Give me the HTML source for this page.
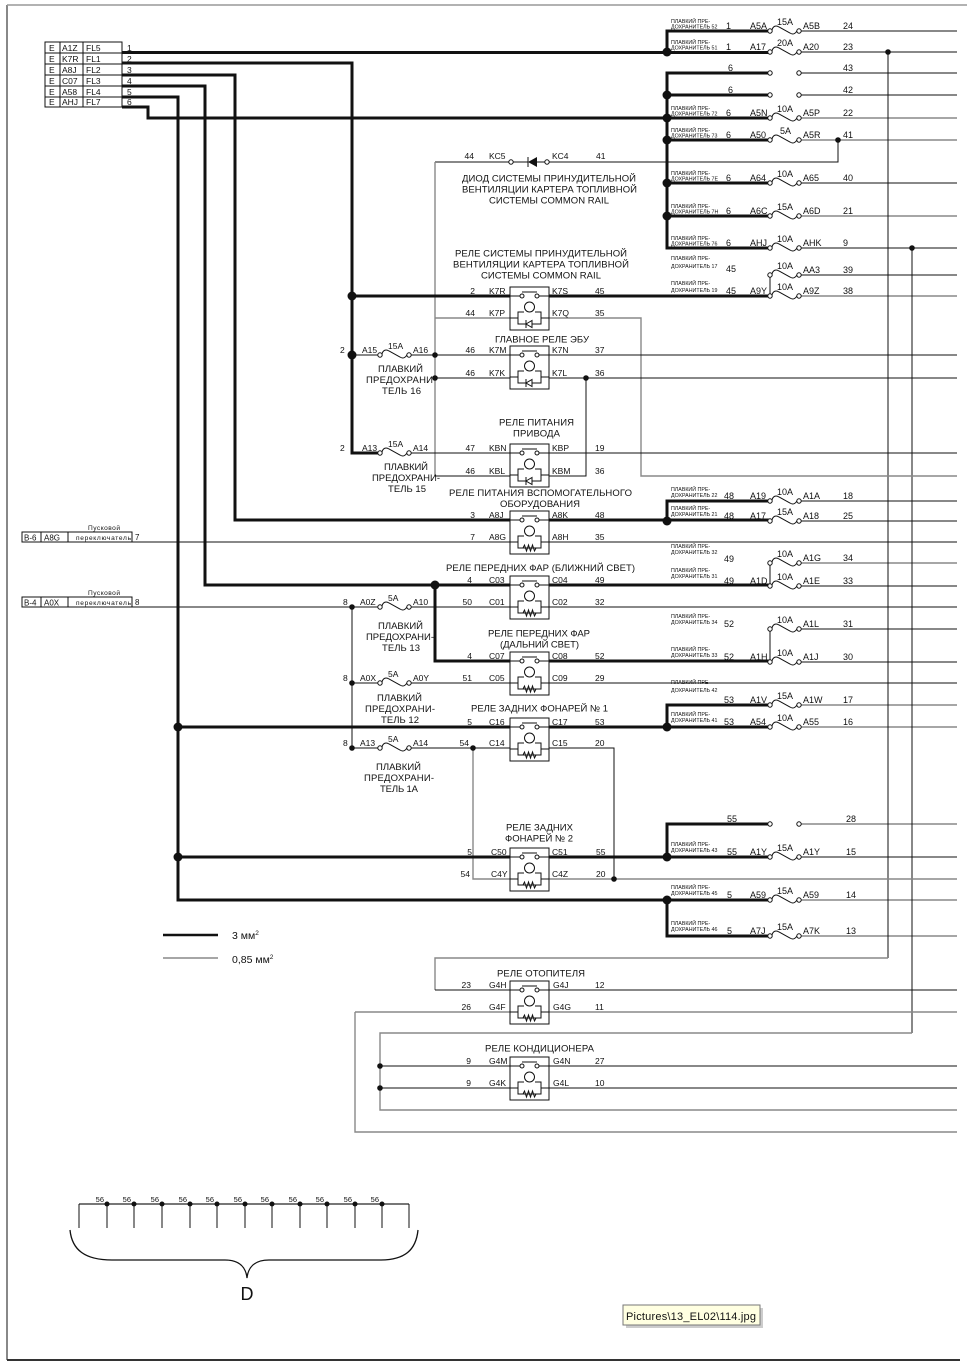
<!DOCTYPE html>
<html><head><meta charset="utf-8"><style>
html,body{margin:0;padding:0;background:#fff;}
svg{display:block}
text{font-family:"Liberation Sans",sans-serif;fill:#111;}
.k{stroke:#111;stroke-width:1;fill:none}
.K{stroke:#111;stroke-width:3;fill:none}
.g{stroke:#888;stroke-width:1.4;fill:none}
.t{font-size:8.5px}
.r{font-size:9px}
.b{font-size:5.3px;fill:#2f4f9f}
.h{font-size:9.5px}
</style></head><body>
<svg width="967" height="1365" viewBox="0 0 967 1365" xmlns="http://www.w3.org/2000/svg">
<defs>
<g id="fu"><path d="M2,-1 C3,-5 6,-6 9,-4 L20,2 C23,4 25,3 27,0" class="k"/><circle cx="0" cy="0" r="2.2" fill="#fff" stroke="#111"/><circle cx="29" cy="0" r="2.2" fill="#fff" stroke="#111"/></g>
<g id="op"><circle cx="0" cy="0" r="2.2" fill="#fff" stroke="#111"/><circle cx="29" cy="0" r="2.2" fill="#fff" stroke="#111"/></g>
<g id="rl">
<rect x="0" y="0" width="39" height="43" fill="#fff" stroke="#111"/>
<path d="M0,9 H10 M29,9 H39 M12,5 H27 M0,31 H8 M31,31 H39 M14,25 H8 V37 H31 V25 H25" class="k"/>
<circle cx="12" cy="9" r="2" fill="#fff" stroke="#111"/>
<circle cx="27" cy="9" r="2" fill="#fff" stroke="#111"/>
<circle cx="19.5" cy="20" r="5" fill="#fff" stroke="#111"/>
</g>
<g id="rd"><use href="#rl"/><path d="M16,33 V41" class="k"/><polygon points="16,37 22,33.5 22,40.5" fill="#fff" stroke="#111"/></g>
<g id="rr"><use href="#rl"/><path d="M13,37 l1.5,-3 l2,6 l2,-6 l2,6 l2,-6 l2,6 l1.5,-3" fill="#fff" class="k"/></g>
</defs>

<!-- frame -->
<path d="M7,5 V1360" stroke="#888" stroke-width="2" fill="none"/>
<path d="M7,5 H967" stroke="#999" stroke-width="1.5" fill="none"/>
<path d="M7,1360 H960" stroke="#333" stroke-width="2" fill="none"/>

<!-- connector table -->
<rect x="45" y="42" width="77" height="65" fill="#fff" stroke="#111"/>
<path class="k" d="M45,53H122M45,64H122M45,75H122M45,86H122M45,97H122M60,42V107M83,42V107"/>
<g class="t">
<text x="49" y="51">E</text><text x="62" y="51">A1Z</text><text x="86" y="51">FL5</text>
<text x="49" y="62">E</text><text x="62" y="62">K7R</text><text x="86" y="62">FL1</text>
<text x="49" y="73">E</text><text x="62" y="73">A8J</text><text x="86" y="73">FL2</text>
<text x="49" y="84">E</text><text x="62" y="84">C07</text><text x="86" y="84">FL3</text>
<text x="49" y="95">E</text><text x="62" y="95">A58</text><text x="86" y="95">FL4</text>
<text x="49" y="105">E</text><text x="62" y="105">AHJ</text><text x="86" y="105">FL7</text>
<text x="127" y="51">1</text><text x="127" y="62">2</text><text x="127" y="73">3</text>
<text x="127" y="84">4</text><text x="127" y="95">5</text><text x="127" y="105">6</text>
</g>

<!-- thin right outputs -->
<path class="k" d="M801,31H957M801,52H957M801,73H957M801,95H957M801,183H957M801,248H957M801,275H957M801,501H957M801,521H957M801,586H957M801,629H957M801,662H957M801,857H957"/>
<path class="g" d="M801,118H957M801,140H957M801,216H957M801,296H957M801,563H957M801,705H957M801,727H957M801,824H957M801,900H957M801,936H957"/>

<!-- verticals and misc thin -->
<path class="k" d="M888,52V958M912,248V1033M838,140V162H549M770,275V296M770,563V586M770,629V662"/>
<path class="k" d="M435,162H509M513,162H528M537,162H545"/>
<path class="k" d="M528,157V167"/>
<polygon points="528,162 537,157 537,167" fill="#111"/>
<circle cx="511" cy="162" r="2.2" fill="#fff" stroke="#111"/>
<circle cx="547" cy="162" r="2.2" fill="#fff" stroke="#111"/>

<path class="g" d="M435,162V476M435,318H510M549,318H641V476H957"/>
<path class="g" d="M888,958H435V990"/>
<path class="k" d="M435,990H510M549,990H957"/>
<path class="g" d="M912,1033H380V1110H957M355,1012H510M549,1012H957M355,1012V1132H957"/>
<path class="k" d="M380,1066H510M549,1066H957M380,1088H510M549,1088H957"/>

<path class="k" d="M352,355H378M411,355H510M549,355H957"/>
<path class="k" d="M435,378H510M549,378H957M586,378V476H549"/>
<path class="k" d="M411,453H510M549,453H957M435,476H510"/>
<path class="k" d="M22,542H510M549,542H957"/>
<path class="k" d="M22,607H378M411,607H510M549,607H957M352,607V748"/>
<path class="k" d="M352,683H378M411,683H510M549,683H957"/>
<path class="k" d="M352,748H378M411,748H510M549,748H614V879"/>
<path class="g" d="M473,748V879H510M549,879H957"/>

<!-- thick -->
<path class="K" d="M122,52.5H770"/>
<path class="K" d="M122,63H352V453H378"/>
<path class="K" d="M122,75H235V520H510M549,520H770"/>
<path class="K" d="M122,86H205V585H510M549,585H770"/>
<path class="K" d="M122,97H178V900H770"/>
<path class="K" d="M122,107H148V118H770"/>
<path class="K" d="M352,296H510M549,296H770"/>
<path class="K" d="M435,585V661H510M549,661H770"/>
<path class="K" d="M178,727H510M549,727H770"/>
<path class="K" d="M178,857H510M549,857H770"/>
<path class="K" d="M770,31H667V52M770,73H667V248H770M770,95H667M667,140H770M667,183H770M667,216H770M770,501H667V521M770,705H667V727M770,824H667V857M667,900V936H770"/>

<!-- right fuses -->
<use href="#fu" x="770" y="31"/><use href="#fu" x="770" y="52"/>
<use href="#op" x="770" y="73"/><use href="#op" x="770" y="95"/>
<use href="#fu" x="770" y="118"/><use href="#fu" x="770" y="140"/>
<use href="#fu" x="770" y="183"/><use href="#fu" x="770" y="216"/>
<use href="#fu" x="770" y="248"/><use href="#fu" x="770" y="275"/>
<use href="#fu" x="770" y="296"/><use href="#fu" x="770" y="501"/>
<use href="#fu" x="770" y="521"/><use href="#fu" x="770" y="563"/>
<use href="#fu" x="770" y="586"/><use href="#fu" x="770" y="629"/>
<use href="#fu" x="770" y="662"/><use href="#fu" x="770" y="705"/>
<use href="#fu" x="770" y="727"/><use href="#op" x="770" y="824"/>
<use href="#fu" x="770" y="857"/><use href="#fu" x="770" y="900"/>
<use href="#fu" x="770" y="936"/>

<!-- left fuses -->
<use href="#fu" x="380" y="355"/><use href="#fu" x="380" y="453"/>
<use href="#fu" x="380" y="607"/><use href="#fu" x="380" y="683"/>
<use href="#fu" x="380" y="748"/>

<!-- relays -->
<use href="#rd" x="510" y="287"/>
<use href="#rd" x="510" y="346"/>
<use href="#rd" x="510" y="444"/>
<use href="#rr" x="510" y="511"/>
<use href="#rr" x="510" y="576"/>
<use href="#rr" x="510" y="652"/>
<use href="#rr" x="510" y="718"/>
<use href="#rr" x="510" y="848"/>
<use href="#rr" x="510" y="981"/>
<use href="#rr" x="510" y="1057"/>

<!-- dots -->
<g fill="#111">
<circle cx="667" cy="52" r="4.5"/><circle cx="667" cy="95" r="4.5"/><circle cx="667" cy="118" r="4.5"/>
<circle cx="667" cy="140" r="4.5"/><circle cx="667" cy="183" r="4.5"/><circle cx="667" cy="216" r="4.5"/>
<circle cx="667" cy="521" r="4.5"/><circle cx="667" cy="727" r="4.5"/><circle cx="667" cy="857" r="4.5"/>
<circle cx="667" cy="900" r="4.5"/><circle cx="352" cy="296" r="4.5"/><circle cx="352" cy="355" r="4.5"/>
<circle cx="435" cy="585" r="4.5"/><circle cx="178" cy="727" r="4.5"/><circle cx="178" cy="857" r="4.5"/>
<circle cx="888" cy="52" r="2.8"/><circle cx="838" cy="140" r="2.8"/><circle cx="912" cy="248" r="2.8"/>
<circle cx="435" cy="355" r="2.8"/><circle cx="435" cy="378" r="2.8"/><circle cx="586" cy="378" r="2.8"/>
<circle cx="352" cy="607" r="2.8"/><circle cx="352" cy="683" r="2.8"/><circle cx="352" cy="748" r="2.8"/>
<circle cx="473" cy="748" r="2.8"/><circle cx="614" cy="879" r="2.8"/>
<circle cx="380" cy="1066" r="2.8"/><circle cx="380" cy="1088" r="2.8"/>
</g>

<!-- right block labels -->
<g class="b">
<text x="671" y="23">ПЛАВКИЙ ПРЕ-</text><text x="671" y="28.5">ДОХРАНИТЕЛЬ 52</text>
<text x="671" y="44">ПЛАВКИЙ ПРЕ-</text><text x="671" y="49.5">ДОХРАНИТЕЛЬ 51</text>
<text x="671" y="110">ПЛАВКИЙ ПРЕ-</text><text x="671" y="115.5">ДОХРАНИТЕЛЬ 72</text>
<text x="671" y="132">ПЛАВКИЙ ПРЕ-</text><text x="671" y="137.5">ДОХРАНИТЕЛЬ 73</text>
<text x="671" y="175">ПЛАВКИЙ ПРЕ-</text><text x="671" y="180.5">ДОХРАНИТЕЛЬ 7E</text>
<text x="671" y="208">ПЛАВКИЙ ПРЕ-</text><text x="671" y="213.5">ДОХРАНИТЕЛЬ 7H</text>
<text x="671" y="240">ПЛАВКИЙ ПРЕ-</text><text x="671" y="245.5">ДОХРАНИТЕЛЬ 76</text>
<text x="671" y="260">ПЛАВКИЙ ПРЕ-</text><text x="671" y="268">ДОХРАНИТЕЛЬ 17</text>
<text x="671" y="285">ПЛАВКИЙ ПРЕ-</text><text x="671" y="292">ДОХРАНИТЕЛЬ 19</text>
<text x="671" y="491">ПЛАВКИЙ ПРЕ-</text><text x="671" y="497">ДОХРАНИТЕЛЬ 22</text>
<text x="671" y="510">ПЛАВКИЙ ПРЕ-</text><text x="671" y="516">ДОХРАНИТЕЛЬ 21</text>
<text x="671" y="548">ПЛАВКИЙ ПРЕ-</text><text x="671" y="554">ДОХРАНИТЕЛЬ 32</text>
<text x="671" y="572">ПЛАВКИЙ ПРЕ-</text><text x="671" y="578">ДОХРАНИТЕЛЬ 31</text>
<text x="671" y="618">ПЛАВКИЙ ПРЕ-</text><text x="671" y="624">ДОХРАНИТЕЛЬ 34</text>
<text x="671" y="651">ПЛАВКИЙ ПРЕ-</text><text x="671" y="657">ДОХРАНИТЕЛЬ 33</text>
<text x="671" y="684">ПЛАВКИЙ ПРЕ-</text><text x="671" y="692">ДОХРАНИТЕЛЬ 42</text>
<text x="671" y="716">ПЛАВКИЙ ПРЕ-</text><text x="671" y="722">ДОХРАНИТЕЛЬ 41</text>
<text x="671" y="846">ПЛАВКИЙ ПРЕ-</text><text x="671" y="852">ДОХРАНИТЕЛЬ 43</text>
<text x="671" y="889">ПЛАВКИЙ ПРЕ-</text><text x="671" y="895">ДОХРАНИТЕЛЬ 45</text>
<text x="671" y="925">ПЛАВКИЙ ПРЕ-</text><text x="671" y="931">ДОХРАНИТЕЛЬ 46</text>
</g>
<g class="r">
<text x="726" y="29">1</text><text x="750" y="29">A5A</text><text x="777" y="25">15A</text><text x="803" y="29">A5B</text><text x="843" y="29">24</text>
<text x="726" y="50">1</text><text x="750" y="50">A17</text><text x="777" y="46">20A</text><text x="803" y="50">A20</text><text x="843" y="50">23</text>
<text x="728" y="71">6</text><text x="843" y="71">43</text>
<text x="728" y="93">6</text><text x="843" y="93">42</text>
<text x="726" y="116">6</text><text x="750" y="116">A5N</text><text x="777" y="112">10A</text><text x="803" y="116">A5P</text><text x="843" y="116">22</text>
<text x="726" y="138">6</text><text x="750" y="138">A50</text><text x="780" y="134">5A</text><text x="803" y="138">A5R</text><text x="843" y="138">41</text>
<text x="726" y="181">6</text><text x="750" y="181">A64</text><text x="777" y="177">10A</text><text x="803" y="181">A65</text><text x="843" y="181">40</text>
<text x="726" y="214">6</text><text x="750" y="214">A6C</text><text x="777" y="210">15A</text><text x="803" y="214">A6D</text><text x="843" y="214">21</text>
<text x="726" y="246">6</text><text x="750" y="246">AHJ</text><text x="777" y="242">10A</text><text x="803" y="246">AHK</text><text x="843" y="246">9</text>
<text x="726" y="272">45</text><text x="777" y="269">10A</text><text x="803" y="273">AA3</text><text x="843" y="273">39</text>
<text x="726" y="294">45</text><text x="750" y="294">A9Y</text><text x="777" y="290">10A</text><text x="803" y="294">A9Z</text><text x="843" y="294">38</text>
<text x="724" y="499">48</text><text x="750" y="499">A19</text><text x="777" y="495">10A</text><text x="803" y="499">A1A</text><text x="843" y="499">18</text>
<text x="724" y="519">48</text><text x="750" y="519">A17</text><text x="777" y="515">15A</text><text x="803" y="519">A18</text><text x="843" y="519">25</text>
<text x="724" y="562">49</text><text x="777" y="557">10A</text><text x="803" y="561">A1G</text><text x="843" y="561">34</text>
<text x="724" y="584">49</text><text x="750" y="584">A1D</text><text x="777" y="580">10A</text><text x="803" y="584">A1E</text><text x="843" y="584">33</text>
<text x="724" y="627">52</text><text x="777" y="623">10A</text><text x="803" y="627">A1L</text><text x="843" y="627">31</text>
<text x="724" y="660">52</text><text x="750" y="660">A1H</text><text x="777" y="656">10A</text><text x="803" y="660">A1J</text><text x="843" y="660">30</text>
<text x="724" y="703">53</text><text x="750" y="703">A1V</text><text x="777" y="699">15A</text><text x="803" y="703">A1W</text><text x="843" y="703">17</text>
<text x="724" y="725">53</text><text x="750" y="725">A54</text><text x="777" y="721">10A</text><text x="803" y="725">A55</text><text x="843" y="725">16</text>
<text x="727" y="822">55</text><text x="846" y="822">28</text>
<text x="727" y="855">55</text><text x="750" y="855">A1Y</text><text x="777" y="851">15A</text><text x="803" y="855">A1Y</text><text x="846" y="855">15</text>
<text x="727" y="898">5</text><text x="750" y="898">A59</text><text x="777" y="894">15A</text><text x="803" y="898">A59</text><text x="846" y="898">14</text>
<text x="727" y="934">5</text><text x="750" y="934">A7J</text><text x="777" y="930">15A</text><text x="803" y="934">A7K</text><text x="846" y="934">13</text>
</g>

<!-- diode labels -->
<g class="t">
<text x="474" y="159" text-anchor="end">44</text><text x="489" y="159">KC5</text><text x="552" y="159">KC4</text><text x="596" y="159">41</text>
</g>
<g class="h">
<text x="462" y="181.5" textLength="174">ДИОД СИСТЕМЫ ПРИНУДИТЕЛЬНОЙ</text>
<text x="462" y="192.5" textLength="175">ВЕНТИЛЯЦИИ КАРТЕРА ТОПЛИВНОЙ</text>
<text x="489" y="203.5" textLength="120">СИСТЕМЫ COMMON RAIL</text>
<text x="455" y="256.5" textLength="172">РЕЛЕ СИСТЕМЫ ПРИНУДИТЕЛЬНОЙ</text>
<text x="453" y="267.5" textLength="176">ВЕНТИЛЯЦИИ КАРТЕРА ТОПЛИВНОЙ</text>
<text x="481" y="278.5" textLength="120">СИСТЕМЫ COMMON RAIL</text>
<text x="495" y="342.5" textLength="94">ГЛАВНОЕ РЕЛЕ ЭБУ</text>
<text x="499" y="425.5" textLength="75">РЕЛЕ ПИТАНИЯ</text>
<text x="513" y="436.5" textLength="47">ПРИВОДА</text>
<text x="449" y="496" textLength="183">РЕЛЕ ПИТАНИЯ ВСПОМОГАТЕЛЬНОГО</text>
<text x="500" y="507" textLength="80">ОБОРУДОВАНИЯ</text>
<text x="446" y="571" textLength="189">РЕЛЕ ПЕРЕДНИХ ФАР (БЛИЖНИЙ СВЕТ)</text>
<text x="488" y="636.5" textLength="102">РЕЛЕ ПЕРЕДНИХ ФАР</text>
<text x="500" y="647.5" textLength="79">(ДАЛЬНИЙ СВЕТ)</text>
<text x="471" y="711.5" textLength="137">РЕЛЕ ЗАДНИХ ФОНАРЕЙ № 1</text>
<text x="506" y="830.5" textLength="67">РЕЛЕ ЗАДНИХ</text>
<text x="505" y="841.5" textLength="68">ФОНАРЕЙ № 2</text>
<text x="497" y="976.5" textLength="88">РЕЛЕ ОТОПИТЕЛЯ</text>
<text x="485" y="1051.5" textLength="109">РЕЛЕ КОНДИЦИОНЕРА</text>

<text x="378" y="372" textLength="45">ПЛАВКИЙ</text>
<text x="366" y="383" textLength="67">ПРЕДОХРАНИ</text>
<text x="382" y="394" textLength="39">ТЕЛЬ 16</text>
<text x="384" y="470" textLength="44">ПЛАВКИЙ</text>
<text x="372" y="481" textLength="68">ПРЕДОХРАНИ-</text>
<text x="388" y="492" textLength="38">ТЕЛЬ 15</text>
<text x="378" y="629" textLength="45">ПЛАВКИЙ</text>
<text x="366" y="640" textLength="68">ПРЕДОХРАНИ-</text>
<text x="382" y="651" textLength="38">ТЕЛЬ 13</text>
<text x="377" y="701" textLength="45">ПЛАВКИЙ</text>
<text x="365" y="712" textLength="70">ПРЕДОХРАНИ-</text>
<text x="381" y="723" textLength="38">ТЕЛЬ 12</text>
<text x="376" y="770" textLength="45">ПЛАВКИЙ</text>
<text x="364" y="781" textLength="70">ПРЕДОХРАНИ-</text>
<text x="380" y="792" textLength="38">ТЕЛЬ 1А</text>
</g>

<!-- left fuse labels -->
<g class="t">
<text x="340" y="353">2</text><text x="362" y="353">A15</text><text x="388" y="349">15A</text><text x="413" y="353">A16</text>
<text x="340" y="451">2</text><text x="362" y="451">A13</text><text x="388" y="447">15A</text><text x="413" y="451">A14</text>
<text x="343" y="605">8</text><text x="360" y="605">A0Z</text><text x="388" y="601">5A</text><text x="413" y="605">A10</text>
<text x="343" y="681">8</text><text x="360" y="681">A0X</text><text x="388" y="677">5A</text><text x="413" y="681">A0Y</text>
<text x="343" y="746">8</text><text x="360" y="746">A13</text><text x="388" y="742">5A</text><text x="413" y="746">A14</text>
</g>

<!-- relay pin labels -->
<g class="t">
<text x="475" y="294" text-anchor="end">2</text><text x="489" y="294">K7R</text><text x="552" y="294">K7S</text><text x="595" y="294">45</text>
<text x="475" y="316" text-anchor="end">44</text><text x="489" y="316">K7P</text><text x="552" y="316">K7Q</text><text x="595" y="316">35</text>
<text x="475" y="353" text-anchor="end">46</text><text x="489" y="353">K7M</text><text x="552" y="353">K7N</text><text x="595" y="353">37</text>
<text x="475" y="376" text-anchor="end">46</text><text x="489" y="376">K7K</text><text x="552" y="376">K7L</text><text x="595" y="376">36</text>
<text x="475" y="451" text-anchor="end">47</text><text x="489" y="451">KBN</text><text x="552" y="451">KBP</text><text x="595" y="451">19</text>
<text x="475" y="474" text-anchor="end">46</text><text x="489" y="474">KBL</text><text x="552" y="474">KBM</text><text x="595" y="474">36</text>
<text x="475" y="518" text-anchor="end">3</text><text x="489" y="518">A8J</text><text x="552" y="518">A8K</text><text x="595" y="518">48</text>
<text x="475" y="540" text-anchor="end">7</text><text x="489" y="540">A8G</text><text x="552" y="540">A8H</text><text x="595" y="540">35</text>
<text x="472" y="583" text-anchor="end">4</text><text x="489" y="583">C03</text><text x="552" y="583">C04</text><text x="595" y="583">49</text>
<text x="472" y="605" text-anchor="end">50</text><text x="489" y="605">C01</text><text x="552" y="605">C02</text><text x="595" y="605">32</text>
<text x="472" y="659" text-anchor="end">4</text><text x="489" y="659">C07</text><text x="552" y="659">C08</text><text x="595" y="659">52</text>
<text x="472" y="681" text-anchor="end">51</text><text x="489" y="681">C05</text><text x="552" y="681">C09</text><text x="595" y="681">29</text>
<text x="472" y="725" text-anchor="end">5</text><text x="489" y="725">C16</text><text x="552" y="725">C17</text><text x="595" y="725">53</text>
<text x="469" y="746" text-anchor="end">54</text><text x="489" y="746">C14</text><text x="552" y="746">C15</text><text x="595" y="746">20</text>
<text x="472" y="855" text-anchor="end">5</text><text x="491" y="855">C50</text><text x="552" y="855">C51</text><text x="596" y="855">55</text>
<text x="470" y="877" text-anchor="end">54</text><text x="491" y="877">C4Y</text><text x="552" y="877">C4Z</text><text x="596" y="877">20</text>
<text x="471" y="988" text-anchor="end">23</text><text x="489" y="988">G4H</text><text x="553" y="988">G4J</text><text x="595" y="988">12</text>
<text x="471" y="1010" text-anchor="end">26</text><text x="489" y="1010">G4F</text><text x="553" y="1010">G4G</text><text x="595" y="1010">11</text>
<text x="471" y="1064" text-anchor="end">9</text><text x="489" y="1064">G4M</text><text x="553" y="1064">G4N</text><text x="595" y="1064">27</text>
<text x="471" y="1086" text-anchor="end">9</text><text x="489" y="1086">G4K</text><text x="553" y="1086">G4L</text><text x="595" y="1086">10</text>
</g>

<!-- starter switch boxes -->
<rect x="22" y="532" width="110" height="10" fill="#fff" stroke="#111"/>
<path class="k" d="M41,532V542M68,532V542M22,542H132"/>
<rect x="22" y="597" width="110" height="10" fill="#fff" stroke="#111"/>
<path class="k" d="M41,597V607M68,597V607M22,607H132"/>
<g style="font-size:8px">
<text x="24" y="540.5">B-6</text><text x="44" y="540.5">A8G</text><text x="135" y="540">7</text>
<text x="24" y="605.5">B-4</text><text x="44" y="605.5">A0X</text><text x="135" y="605">8</text>
</g>
<g style="font-size:6.6px">
<text x="88" y="530" textLength="32">Пусковой</text>
<text x="76" y="540" textLength="55">переключатель</text>
<text x="88" y="595" textLength="32">Пусковой</text>
<text x="76" y="605" textLength="55">переключатель</text>
</g>

<!-- legend -->
<path d="M163,935H218" stroke="#111" stroke-width="2.5" fill="none"/>
<text x="232" y="939" style="font-size:10.5px">3 мм<tspan dy="-4" style="font-size:6.5px">2</tspan></text>
<path d="M163,958H218" class="g"/>
<text x="232" y="963" style="font-size:10.5px">0,85 мм<tspan dy="-4" style="font-size:6.5px">2</tspan></text>

<!-- D bracket -->
<path d="M79,1204H409" stroke="#777" stroke-width="2" fill="none"/>
<path class="k" d="M79,1204V1228M409,1204V1228M107,1204V1228M134,1204V1228M162,1204V1228M190,1204V1228M217,1204V1228M245,1204V1228M272,1204V1228M300,1204V1228M327,1204V1228M355,1204V1228M382,1204V1228"/>
<g fill="#111">
<circle cx="107" cy="1204" r="2.5"/><circle cx="134" cy="1204" r="2.5"/><circle cx="162" cy="1204" r="2.5"/>
<circle cx="190" cy="1204" r="2.5"/><circle cx="217" cy="1204" r="2.5"/><circle cx="245" cy="1204" r="2.5"/>
<circle cx="272" cy="1204" r="2.5"/><circle cx="300" cy="1204" r="2.5"/><circle cx="327" cy="1204" r="2.5"/>
<circle cx="355" cy="1204" r="2.5"/><circle cx="382" cy="1204" r="2.5"/>
</g>
<g style="font-size:7.5px" text-anchor="end">
<text x="104" y="1202">56</text><text x="131" y="1202">56</text><text x="159" y="1202">56</text>
<text x="187" y="1202">56</text><text x="214" y="1202">56</text><text x="242" y="1202">56</text>
<text x="269" y="1202">56</text><text x="297" y="1202">56</text><text x="324" y="1202">56</text>
<text x="352" y="1202">56</text><text x="379" y="1202">56</text>
</g>
<path d="M70,1230 C72,1250 85,1260 112,1260 H225 C240,1260 246,1268 247,1278 C248,1268 254,1260 269,1260 H380 C405,1260 416,1250 418,1230" stroke="#111" stroke-width="1.3" fill="none"/>
<text x="247" y="1300" text-anchor="middle" style="font-size:18px">D</text>

<!-- tooltip -->
<rect x="626" y="1308" width="137" height="20" fill="#ccc"/>
<rect x="623" y="1305" width="137" height="20" fill="#ffffe1" stroke="#777"/>
<text x="626" y="1320" style="font-size:11px" textLength="130">Pictures\13_EL02\114.jpg</text>
</svg>
</body></html>
